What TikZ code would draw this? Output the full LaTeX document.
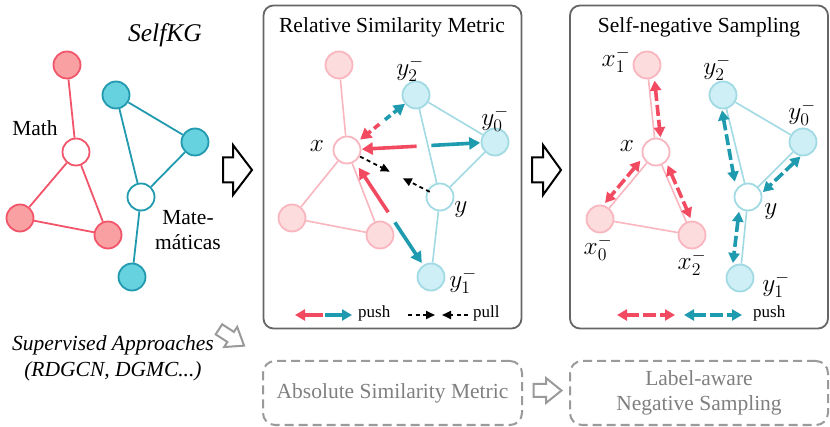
\RequirePackage{fix-cm}
\documentclass[tikz,border=0pt]{standalone}
\usepackage{fontspec}
\setmainfont{Liberation Serif}
\usetikzlibrary{arrows.meta,calc}
\definecolor{redE}{HTML}{F2556A}
\definecolor{redF}{HTML}{F9A1A2}
\definecolor{tealE}{HTML}{2199AE}
\definecolor{tealF}{HTML}{66D2E0}
\definecolor{pinkE}{HTML}{F9B6BF}
\definecolor{pinkF}{HTML}{FDDCDE}
\definecolor{ltealE}{HTML}{A2DAE4}
\definecolor{ltealF}{HTML}{CDEFF5}
\definecolor{arR}{HTML}{F24A60}
\definecolor{arT}{HTML}{1F9BAF}
\definecolor{panelE}{HTML}{666666}
\definecolor{dashE}{HTML}{9A9A9A}
\definecolor{grayT}{HTML}{7F7F7F}
\newcommand\myfs{\fontsize{21.5}{25}\selectfont}
\newcommand\mysm{\fontsize{17}{20}\selectfont}
\newcommand\mlab[1]{\scalebox{1.18}{$#1$}}
\begin{document}
\begin{tikzpicture}[x=1pt,y=-1pt,
  nd/.style={circle, minimum size=27pt, inner sep=0pt, line width=1.8pt},
  rn/.style={nd, draw=redE, fill=redF},
  rw/.style={nd, draw=redE, fill=white},
  tn/.style={nd, draw=tealE, fill=tealF},
  tw/.style={nd, draw=tealE, fill=white},
  pn/.style={nd, draw=pinkE, fill=pinkF},
  pw/.style={nd, draw=pinkE, fill=white},
  ln/.style={nd, draw=ltealE, fill=ltealF},
  lw/.style={nd, draw=ltealE, fill=white},
  redge/.style={draw=redE, line width=1.8pt},
  tedge/.style={draw=tealE, line width=1.8pt},
  pedge/.style={draw=pinkE, line width=1.6pt},
  ledge/.style={draw=ltealE, line width=1.6pt},
  txt/.style={font=\myfs, inner sep=0pt},
  lbl/.style={font=\myfs, inner sep=0pt},
  panel/.style={draw=panelE, line width=1.8pt, rounded corners=10pt, fill=white},
  dbox/.style={draw=dashE, line width=2pt, dash pattern=on 9pt off 5pt, rounded corners=12pt, font=\myfs, text=grayT, align=center},
  solidR/.style={draw=arR, line width=3.6pt, -{Triangle[length=11pt,width=12pt]}},
  solidT/.style={draw=arT, line width=3.6pt, -{Triangle[length=11pt,width=12pt]}},
  dashR/.style={solidR, dash pattern=on 7pt off 4pt},
  dashT/.style={solidT, dash pattern=on 7pt off 4pt},
  pullA/.style={draw=black, line width=1.8pt, dash pattern=on 4pt off 3.5pt, -{Triangle[length=9pt,width=8pt]}},
  dblR/.style={draw=arR, line width=3.6pt, dash pattern=on 11pt off 4pt, {Triangle[length=10pt,width=11pt]}-{Triangle[length=10pt,width=11pt]}},
  dblT/.style={draw=arT, line width=3.6pt, dash pattern=on 11pt off 4pt, {Triangle[length=10pt,width=11pt]}-{Triangle[length=10pt,width=11pt]}},
  blk/.style={draw=black, line width=2pt, fill=white, line join=miter},
  gblk/.style={draw=dashE, line width=2pt, fill=white, line join=miter}
]
\useasboundingbox (0,0) rectangle (830,427);

% ---------------- left graph ----------------
\node[txt, font=\fontsize{25.5}{30}\selectfont\itshape] (lself) at (165,35) {SelfKG};
\node[rn] (n1) at (67,65) {};
\node[rw] (nm) at (76,152) {};
\node[rn] (nbl) at (20,218) {};
\node[rn] (nbr) at (108,235) {};
\node[tn] (t1) at (116,95) {};
\node[tn] (t2) at (195,142) {};
\node[tw] (tW) at (141,197) {};
\node[tn] (t3) at (132,277) {};
\draw[redge] (n1)--(nm) (nm)--(nbl) (nm)--(nbr) (nbl)--(nbr);
\draw[tedge] (t1)--(t2) (t1)--(tW) (t2)--(tW) (tW)--(t3);
\node[txt] (lmath) at (35,128) {Math};
\node[txt, align=center] (lmate) at (188,230) {Mate-\\máticas};

% block arrows
\begin{scope}[shift={(237.5,170)}]
\draw[blk] (-14.5,-12.5) -- (-4.5,-12.5) -- (-4.5,-25) -- (14.5,0) -- (-4.5,25) -- (-4.5,12.5) -- (-14.5,12.5) -- cycle;
\end{scope}
\begin{scope}[shift={(546.5,170)}]
\draw[blk] (-14.5,-12.5) -- (-3.5,-12.5) -- (-3.5,-25) -- (14.5,0) -- (-3.5,25) -- (-3.5,12.5) -- (-14.5,12.5) -- cycle;
\end{scope}
\begin{scope}[shift={(547.5,390.5)}]
\draw[gblk] (-14,-6.5) -- (-1.5,-6.5) -- (-1.5,-12.5) -- (14,0) -- (-1.5,12.5) -- (-1.5,6.5) -- (-14,6.5) -- cycle;
\end{scope}
\begin{scope}[shift={(231.5,337.5)}, rotate=-33]
\draw[gblk] (-15,-6) -- (-1,-6) -- (-1,-12) -- (15,0) -- (-1,12) -- (-1,6) -- (-15,6) -- cycle;
\end{scope}

% ---------------- panel 1 ----------------
\node[panel, minimum width=258pt, minimum height=323pt] (p1) at (392.5,167) {};
\node[txt] (p1t) at (392,27) {Relative Similarity Metric};
\node[pn] (a1) at (339,65) {};
\node[pw] (ax) at (347,150) {};
\node[pn] (abl) at (292,218) {};
\node[pn] (abr) at (380,235) {};
\node[ln] (ay2) at (416,95) {};
\node[ln] (ay0) at (495,142) {};
\node[lw] (ay) at (440,197) {};
\node[ln] (ay1) at (431,277) {};
\draw[pedge] (a1)--(ax) (ax)--(abl) (ax)--(abr) (abl)--(abr);
\draw[ledge] (ay2)--(ay0) (ay2)--(ay) (ay0)--(ay) (ay)--(ay1);
\node[lbl] (lx) at (317,146) {\mlab{x}};
\node[lbl] (ly2) at (410,69) {\mlab{y_2^-}};
\node[lbl] (ly0) at (495,119) {\mlab{y_0^-}};
\node[lbl] (ly) at (461,210) {\mlab{y}};
\node[lbl] (ly1) at (463,281) {\mlab{y_1^-}};
\draw[solidR] ($(ax)!0.47!(ay0)$) -- ($(ax)!0.10!(ay0)$);
\draw[solidT] ($(ax)!0.57!(ay0)$) -- ($(ax)!0.90!(ay0)$);
\draw[solidR] ($(ax)!0.49!(ay1)$) -- ($(ax)!0.14!(ay1)$);
\draw[solidT] ($(ax)!0.57!(ay1)$) -- ($(ax)!0.89!(ay1)$);
\draw[dashR] ($(ax)!0.47!(ay2)$) -- ($(ax)!0.19!(ay2)$);
\draw[dashT] ($(ax)!0.55!(ay2)$) -- ($(ax)!0.84!(ay2)$);
\draw[pullA] ($(ax)!0.14!(ay)$) -- ($(ax)!0.46!(ay)$);
\draw[pullA] ($(ax)!0.89!(ay)$) -- ($(ax)!0.60!(ay)$);
% legend
\coordinate (g1a) at (323,315); \coordinate (g1b) at (295,315);
\coordinate (g1c) at (325,315); \coordinate (g1d) at (352,315);
\coordinate (g1e) at (408,315); \coordinate (g1f) at (435,315);
\coordinate (g1g) at (468,315); \coordinate (g1h) at (442,315);
\draw[solidR, -{Triangle[length=10pt,width=11pt]}] (g1a) -- (g1b);
\draw[solidT, -{Triangle[length=10pt,width=11pt]}] (g1c) -- (g1d);
\draw[pullA] (g1e) -- (g1f);
\draw[pullA] (g1g) -- (g1h);
\node[font=\mysm, inner sep=0pt, anchor=west] (push1) at (358,313) {push};
\node[font=\mysm, inner sep=0pt, anchor=west] (pull1) at (473,313) {pull};

% ---------------- panel 2 ----------------
\node[panel, minimum width=258pt, minimum height=323pt] (p2) at (699,167) {};
\node[txt] (p2t) at (699,27) {Self-negative Sampling};
\node[pn] (b1) at (647,65) {};
\node[pw] (bx) at (656,152) {};
\node[pn] (b0) at (600,219) {};
\node[pn] (b2) at (692,235) {};
\node[ln] (by2) at (723,95) {};
\node[ln] (by0) at (803,142) {};
\node[lw] (by) at (748,197) {};
\node[ln] (by1) at (740,278) {};
\draw[pedge] (b1)--(bx) (bx)--(b0) (bx)--(b2) (b0)--(b2);
\draw[ledge] (by2)--(by0) (by2)--(by) (by0)--(by) (by)--(by1);
\node[lbl] (mx1) at (616,60) {\mlab{x_1^-}};
\node[lbl] (mx) at (627,146) {\mlab{x}};
\node[lbl] (mx0) at (598,248) {\mlab{x_0^-}};
\node[lbl] (mx2) at (692,263) {\mlab{x_2^-}};
\node[lbl] (my2) at (717,68) {\mlab{y_2^-}};
\node[lbl] (my0) at (802,113) {\mlab{y_0^-}};
\node[lbl] (my) at (771,212) {\mlab{y}};
\node[lbl] (my1) at (776,285) {\mlab{y_1^-}};
\draw[dblR] ($(b1)!0.18!(bx)+(6,0)$) -- ($(b1)!0.83!(bx)+(6,0)$);
\draw[dblR] ($(bx)!0.19!(b0)+(-5,-4)$) -- ($(bx)!0.82!(b0)+(-5,-4)$);
\draw[dblR] ($(bx)!0.185!(b2)+(5,-2)$) -- ($(bx)!0.82!(b2)+(5,-2)$);
\draw[dblT] ($(by2)!0.14!(by)+(-4.5,1)$) -- ($(by2)!0.83!(by)+(-9,2)$);
\draw[dblT] ($(by0)!0.155!(by)+(6,6)$) -- ($(by0)!0.82!(by)+(5,5)$);
\draw[dblT] ($(by)!0.19!(by1)+(-7.5,-0.7)$) -- ($(by)!0.825!(by1)+(-8.5,-0.8)$);
% legend
\coordinate (g2a) at (617,315); \coordinate (g2b) at (675,315);
\coordinate (g2c) at (684,315); \coordinate (g2d) at (742,315);
\draw[dblR, dash pattern=on 13pt off 4pt] (g2a) -- (g2b);
\draw[dblT, dash pattern=on 13pt off 4pt] (g2c) -- (g2d);
\node[font=\mysm, inner sep=0pt, anchor=west] (push2) at (753,313) {push};

% ---------------- bottom ----------------
\node[txt, font=\fontsize{21.5}{26}\selectfont\itshape, align=center] (sup) at (113,358) {Supervised Approaches\\(RDGCN, DGMC...)};
\node[dbox, minimum width=259pt, minimum height=64pt] (abs) at (392.5,393) {Absolute Similarity Metric};
\node[dbox, minimum width=258pt, minimum height=64pt] (lab) at (699,393) {Label-aware\\Negative Sampling};
\end{tikzpicture}
\end{document}
